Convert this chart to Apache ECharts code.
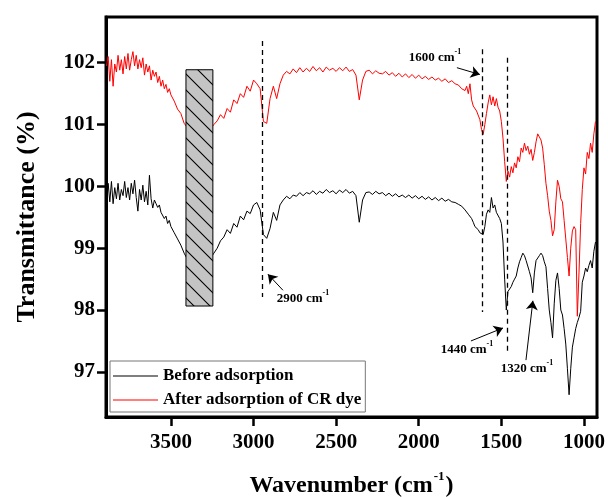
<!DOCTYPE html>
<html><head><meta charset="utf-8">
<script src="https://cdn.jsdelivr.net/npm/echarts@6/dist/echarts.min.js"></script>
<style>html,body{margin:0;padding:0;background:#fff}#c{width:608px;height:497px}</style>
</head><body><div id="c"></div>
<script>
// ---- wavenumber grid (cm-1) ----
const wnA = [3890,3880,3870,3860,3850,3840,3830,3820,3810,3800,
  3790,3780,3770,3760,3750,3740,3730,3720,3710,3700,
  3690,3680,3670,3660,3650,3640,3630,3620,3610,3600,
  3590,3580,3570,3560,3550,3540,3530,3520,3510,3500];
const wnB = [3480,3460,3440,3420,3400,3380,3360,3340,3320,3300,
  3280,3260,3240,3220,3200,3180,3160,3140,3120,3100,
  3080,3060,3040,3020,3000,2980,2960,2940,2920,2900,
  2880,2860,2840,2820,2800,2780,2760,2740,2720,2700,
  2680,2660,2640,2620,2600,2580,2560,2540,2520,2500,
  2480,2460,2440,2420,2400,2380,2360,2340,2320,2300,
  2280,2260,2240,2220,2200,2180,2160,2140,2120,2100,
  2080,2060,2040,2020,2000,1980,1960,1940,1920,1900,
  1880,1860,1840,1820,1800,1780,1760,1740,1720];
const wnC = [1710,1700,1690,1680,1670,1660,1650,1640,1630,1620,
  1610,1600,1590,1580,1570,1560,1550,1540,1530,1520,
  1510,1500,1490,1480,1470,1460,1450,1440,1430,1420,
  1410,1400,1390,1380,1370,1360,1350,1340,1330,1320,
  1310,1300,1290,1280,1270,1260,1250,1240,1230,1220,
  1210,1200,1190,1180,1170,1160,1150,1140,1130,1120,
  1110,1100,1090,1080,1070,1060,1050,1040,1030,1020,
  1010,1000,990,980,970,960,950,940,
  930];

// ---- Before adsorption (%T) ----
const beforeA = [99.70,100.05,99.75,100.08,99.72,99.98,99.80,100.05,99.78,99.95,
  99.85,100.08,99.82,99.98,99.78,100.05,99.88,100.10,99.82,99.60,
  99.95,99.78,100.02,99.75,99.92,99.70,100.18,99.80,99.65,99.78,
  99.72,99.66,99.70,99.58,99.55,99.48,99.52,99.40,99.45,99.35];
const beforeB = [99.25,99.15,99.05,98.92,98.82,98.78,98.75,98.76,98.78,98.80,
  98.82,98.84,98.92,99.00,99.12,99.18,99.30,99.24,99.40,99.34,
  99.52,99.46,99.60,99.56,99.70,99.74,99.62,99.22,99.16,99.32,
  99.58,99.45,99.70,99.78,99.84,99.80,99.86,99.84,99.90,99.85,
  99.90,99.88,99.93,99.87,99.92,99.89,99.95,99.90,99.93,99.88,
  99.94,99.90,99.95,99.89,99.92,99.85,99.42,99.78,99.90,99.91,
  99.87,99.92,99.88,99.90,99.85,99.89,99.84,99.88,99.83,99.86,
  99.82,99.86,99.81,99.85,99.80,99.84,99.79,99.83,99.78,99.82,
  99.77,99.81,99.76,99.79,99.75,99.74,99.71,99.68,99.62];
const beforeC = [99.60,99.55,99.58,99.48,99.42,99.35,99.38,99.30,99.25,99.28,
  99.22,99.35,99.55,99.62,99.58,99.82,99.65,99.70,99.58,99.55,
  99.48,99.40,99.10,98.50,98.00,98.30,98.30,98.38,98.45,98.50,
  98.55,98.68,98.78,98.85,98.92,98.88,98.80,98.78,98.62,98.52,
  98.28,98.60,98.80,98.82,98.88,98.92,98.88,98.78,98.70,98.35,
  98.00,97.80,97.55,98.10,98.48,98.60,98.35,98.00,97.92,97.70,
  97.45,97.05,96.63,97.05,97.40,97.55,97.70,97.80,97.88,97.98,
  98.45,98.55,98.68,98.62,98.72,98.80,98.68,98.95,
  99.10];

// ---- After adsorption of CR dye (%T) ----
const afterA = [101.95,102.10,101.70,102.05,101.62,101.98,101.85,102.12,101.88,102.05,
  101.82,102.10,101.90,102.15,101.88,102.05,102.18,101.95,102.12,101.90,
  102.05,101.92,102.08,101.80,101.98,101.85,101.95,101.72,101.88,101.78,
  101.85,101.68,101.78,101.62,101.72,101.58,101.65,101.52,101.58,101.48];
const afterB = [101.38,101.25,101.18,101.02,100.95,100.88,100.85,100.86,100.88,100.90,
  100.92,100.93,101.00,101.06,101.16,101.10,101.26,101.20,101.40,101.34,
  101.50,101.44,101.62,101.54,101.72,101.66,101.58,101.05,101.02,101.42,
  101.62,101.42,101.66,101.80,101.86,101.82,101.90,101.84,101.92,101.85,
  101.91,101.86,101.94,101.87,101.92,101.85,101.93,101.88,101.91,101.86,
  101.92,101.87,101.93,101.86,101.89,101.80,101.40,101.72,101.86,101.88,
  101.82,101.87,101.83,101.82,101.86,101.80,101.84,101.78,101.83,101.77,
  101.82,101.76,101.81,101.75,101.80,101.74,101.78,101.73,101.77,101.72,
  101.75,101.70,101.74,101.68,101.71,101.66,101.64,101.58,101.55];
const afterC = [101.62,101.50,101.66,101.40,101.30,101.28,101.22,101.25,101.08,100.92,
  100.84,101.00,101.18,101.35,101.48,101.32,101.45,101.30,101.42,101.28,
  101.22,101.05,100.78,100.40,100.08,100.25,100.15,100.32,100.22,100.38,
  100.30,100.48,100.40,100.62,100.55,100.70,100.58,100.65,100.52,100.60,
  100.42,100.55,100.72,100.85,100.80,100.75,100.62,100.35,100.05,99.85,
  99.60,99.45,99.20,99.30,99.75,100.10,100.00,99.80,99.75,99.45,
  99.15,98.85,98.55,99.00,99.28,99.35,99.30,97.90,98.60,99.40,
  99.95,100.30,100.20,100.55,100.45,100.70,100.55,100.85,
  101.05];

// ---- axes ----
const xTicks = [1000,1500,2000,2500,3000,3500];
const yTicks = [97,98,99,100,101,102];
const xRange = [921,3893];
const yRange = [96.27,102.74];

// ---- annotations (data units) ----
const peakLineWn = [2945,1617,1466];
const peakLineTop = [102.35,102.22,102.08];
const peakLineBottom = [98.21,97.97,97.32];
const labelText = ['1600','2900','1440','1320'];
const labelPos = [[1902,102.11],[2701,98.21],[1708,97.39],[1345,97.08]];
const arrowFrom = [[1769,101.92],[2822,98.32],[1684,97.50],[1351,97.19]];
const arrowTo = [[1630,101.81],[2913,98.58],[1490,97.71],[1309,98.15]];
const boxWn = [3409,3246];
const boxT = [98.065,101.887];

const wavenumbers = wnA.concat(wnB, wnC);
const before = beforeA.concat(beforeB, beforeC);
const after = afterA.concat(afterB, afterC);
const pairs = v => wavenumbers.map((w,i)=>[w, v[i]]);

const serif = '"Liberation Serif","Times New Roman",serif';

function hatchCanvas(){
  const c = document.createElement('canvas'); c.width = 16; c.height = 16;
  const g = c.getContext('2d');
  g.fillStyle = '#c4c4c4'; g.fillRect(0,0,16,16);
  g.strokeStyle = '#000'; g.lineWidth = 1.1;
  g.beginPath();
  g.moveTo(-2,-2); g.lineTo(18,18);
  g.moveTo(-2,14); g.lineTo(2,18);
  g.moveTo(14,-2); g.lineTo(18,2);
  g.stroke();
  return c;
}

const chart = echarts.init(document.getElementById('c'), null, {renderer:'canvas'});
const txt = {fontFamily: serif, fontWeight:'bold', color:'#000'};

chart.setOption({
  animation:false,
  backgroundColor:'#fff',
  grid:{left:106, right:11, top:17, bottom:80, show:true, borderColor:'#000', borderWidth:3,
        containLabel:false, outerBoundsMode:'none'},
  legend:{
    data:['Before adsorption','After adsorption of CR dye'],
    orient:'vertical', left:110, top:361,
    icon:'rect', itemWidth:45, itemHeight:1, itemGap:4,
    padding:[5,4,2,3],
    borderColor:'#777', borderWidth:1, backgroundColor:'#fff',
    textStyle:{fontFamily:serif, fontWeight:'bold', fontSize:17, color:'#000', lineHeight:20},
    selectedMode:false
  },
  xAxis:{
    type:'value', inverse:true, min:xRange[0], max:xRange[1],
    name:'{a|Wavenumber (cm}{s|-1}{a|)}', nameLocation:'middle', nameGap:53,
    nameTextStyle:{rich:{
      a:Object.assign({fontSize:24, lineHeight:28, verticalAlign:'bottom'}, txt),
      s:Object.assign({fontSize:13, lineHeight:28, verticalAlign:'top', padding:[0,1,0,1]}, txt)
    }},
    axisLine:{show:true, lineStyle:{color:'#000', width:3}},
    axisTick:{show:true, length:9, lineStyle:{width:2.5, color:'#000'}, customValues:xTicks},
    axisLabel:Object.assign({fontSize:21, margin:15, customValues:xTicks, formatter:v=>String(v)}, txt),
    splitLine:{show:false}
  },
  yAxis:{
    type:'value', min:yRange[0], max:yRange[1],
    name:'Transmittance (%)', nameLocation:'middle', nameGap:66,
    nameTextStyle:Object.assign({fontSize:26}, txt),
    axisLine:{show:true, lineStyle:{color:'#000', width:3}},
    axisTick:{show:true, length:9, lineStyle:{width:2.5, color:'#000'}, customValues:yTicks},
    axisLabel:Object.assign({fontSize:21, margin:11, customValues:yTicks, formatter:v=>String(v)}, txt),
    splitLine:{show:false}
  },
  series:[
    {name:'Before adsorption', type:'line', data:pairs(before), showSymbol:false, symbol:'none',
     lineStyle:{color:'#000', width:1}, itemStyle:{color:'#000'}, z:3},
    {name:'After adsorption of CR dye', type:'line', data:pairs(after), showSymbol:false, symbol:'none',
     lineStyle:{color:'#ff0000', width:1}, itemStyle:{color:'#ff0000'}, z:3},
    {name:'box', type:'line', data:[], z:5, silent:true,
     markArea:{silent:true, z:10, itemStyle:{color:{image:hatchCanvas(), repeat:'repeat'}, borderColor:'#000', borderWidth:1, opacity:1},
       label:{show:false},
       data:[[{coord:[boxWn[0], boxT[0]]},{coord:[boxWn[1], boxT[1]]}]]}},
    {name:'peaks', type:'line', data:[], z:6, silent:true,
     markLine:{silent:true, z:11, symbol:['none','none'], label:{show:false},
       lineStyle:{color:'#000', width:1.3, type:[5,4]},
       data:peakLineWn.map((w,i)=>[{coord:[w, peakLineTop[i]]},{coord:[w, peakLineBottom[i]]}])}},
    {name:'arrows', type:'line', data:[], z:6, silent:true,
     markLine:{silent:true, z:11, symbol:['none','arrow'], symbolSize:9, label:{show:false},
       lineStyle:{color:'#000', width:1, type:'solid'},
       data:arrowFrom.map((f,i)=>[{coord:f},{coord:arrowTo[i]}])}},
    {name:'labels', type:'line', data:[], z:7, silent:true,
     markPoint:{silent:true, z:12, symbol:'circle', symbolSize:1, itemStyle:{color:'rgba(0,0,0,0)'},
       label:{show:true, position:'inside',
         formatter:p=>'{a|'+p.name+' cm}{s|-1}',
         rich:{a:Object.assign({fontSize:13, lineHeight:16, verticalAlign:'bottom'}, txt),
               s:Object.assign({fontSize:8, lineHeight:16, verticalAlign:'top'}, txt)}},
       data:labelPos.map((p,i)=>({name:labelText[i], coord:p}))}}
  ]
});
</script></body></html>
